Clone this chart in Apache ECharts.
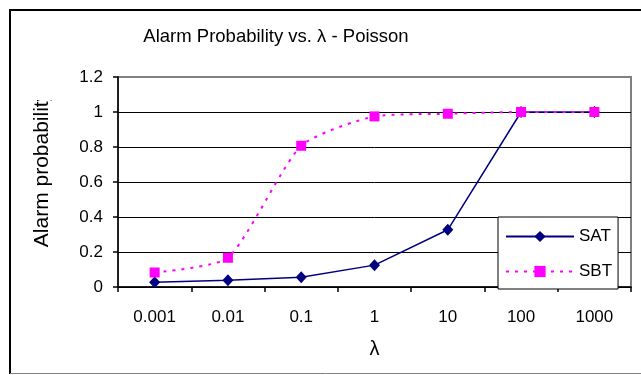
<!DOCTYPE html>
<html>
<head>
<meta charset="utf-8">
<script src="https://cdn.jsdelivr.net/npm/echarts@6/dist/echarts.min.js"></script>
<style>html,body{margin:0;padding:0;background:#fff;}#chart{width:641px;height:375px;}</style>
</head>
<body>
<div id="chart"></div>
<script>
const categories = ['0.001', '0.01', '0.1', '1', '10', '100', '1000'];
const satValues = [0.027, 0.038, 0.056, 0.125, 0.327, 1.0, 1.0];
const sbtValues = [0.083, 0.167, 0.807, 0.975, 0.99, 1.0, 1.0];
const yTicks = [0, 0.2, 0.4, 0.6, 0.8, 1, 1.2];
const titleText = 'Alarm Probability vs. \u03bb - Poisson';
const yName = 'Alarm probability';
const xName = '\u03bb';

const FONT = '"Liberation Sans", Arial, sans-serif';
const chart = echarts.init(document.getElementById('chart'), null, {renderer: 'canvas'});
chart.setOption({
  backgroundColor: '#fff',
  animation: false,
  title: {
    text: titleText,
    left: 271, top: 22, textAlign: 'center',
    textStyle: {fontFamily: FONT, fontSize: 18.5, fontWeight: 'normal', color: '#000'}
  },
  grid: {left: 118, right: 10, top: 77, bottom: 88, show: true, borderColor: '#808080', borderWidth: 2, backgroundColor: 'transparent'},
  legend: {
    data: ['SAT', 'SBT'],
    orient: 'vertical',
    left: 498, top: 217,
    itemWidth: 68, itemHeight: 14, itemGap: 18,
    padding: [11, 6, 9, 7],
    backgroundColor: '#fff',
    borderColor: '#000', borderWidth: 1,
    textStyle: {fontFamily: FONT, fontSize: 17, color: '#000'},
    selectedMode: false
  },
  xAxis: {
    type: 'category',
    data: categories,
    boundaryGap: true,
    name: xName, nameLocation: 'middle', nameGap: 52,
    nameTextStyle: {fontFamily: FONT, fontSize: 20, color: '#000'},
    axisLine: {lineStyle: {color: '#000', width: 1.5}},
    axisTick: {show: true, inside: false, length: 5, alignWithLabel: false, lineStyle: {color: '#000', width: 1.5}},
    axisLabel: {fontFamily: FONT, fontSize: 17, color: '#000', margin: 22},
    splitLine: {show: false}
  },
  yAxis: {
    type: 'value',
    min: 0, max: 1.2, interval: 0.2,
    axisLine: {show: true, lineStyle: {color: '#000', width: 1.5}},
    axisTick: {show: true, inside: false, length: 5, lineStyle: {color: '#000', width: 1.5}},
    axisLabel: {fontFamily: FONT, fontSize: 17, color: '#000', margin: 15,
      formatter: function (v) { return String(Math.round(v * 10) / 10); }},
    splitLine: {show: true, lineStyle: {color: ['#000', '#000', '#000', '#000', '#000', '#000', '#808080'], width: 1}}
  },
  series: [
    {
      name: 'SAT', type: 'line', data: satValues,
      symbol: 'diamond', symbolSize: [11, 12],
      lineStyle: {color: '#000080', width: 1.5},
      itemStyle: {color: '#000080'},
      z: 3
    },
    {
      name: 'SBT', type: 'line', data: sbtValues,
      smooth: 0.2,
      symbol: 'rect', symbolSize: 10,
      lineStyle: {color: '#ff00ff', width: 2, type: [3, 6]},
      itemStyle: {color: '#ff00ff'},
      z: 4
    }
  ],
  graphic: [
    {type: 'text', x: 42, y: 169, rotation: Math.PI / 2, z: 10,
      style: {text: yName, fontFamily: FONT, fontSize: 21, fill: '#000', align: 'center', verticalAlign: 'middle'}},
    {type: 'rect', shape: {x: 22, y: 80, width: 40, height: 20}, style: {fill: '#fff'}, z: 11},
    {type: 'line', shape: {x1: 10, y1: 9, x2: 10, y2: 374}, style: {stroke: '#000', lineWidth: 2}, z: 12},
    {type: 'line', shape: {x1: 9, y1: 10, x2: 641, y2: 10}, style: {stroke: '#000', lineWidth: 2}, z: 12},
    {type: 'line', shape: {x1: 10, y1: 373.5, x2: 641, y2: 373.5}, style: {stroke: '#808080', lineWidth: 1}, z: 12}
  ]
});
</script>
</body>
</html>
